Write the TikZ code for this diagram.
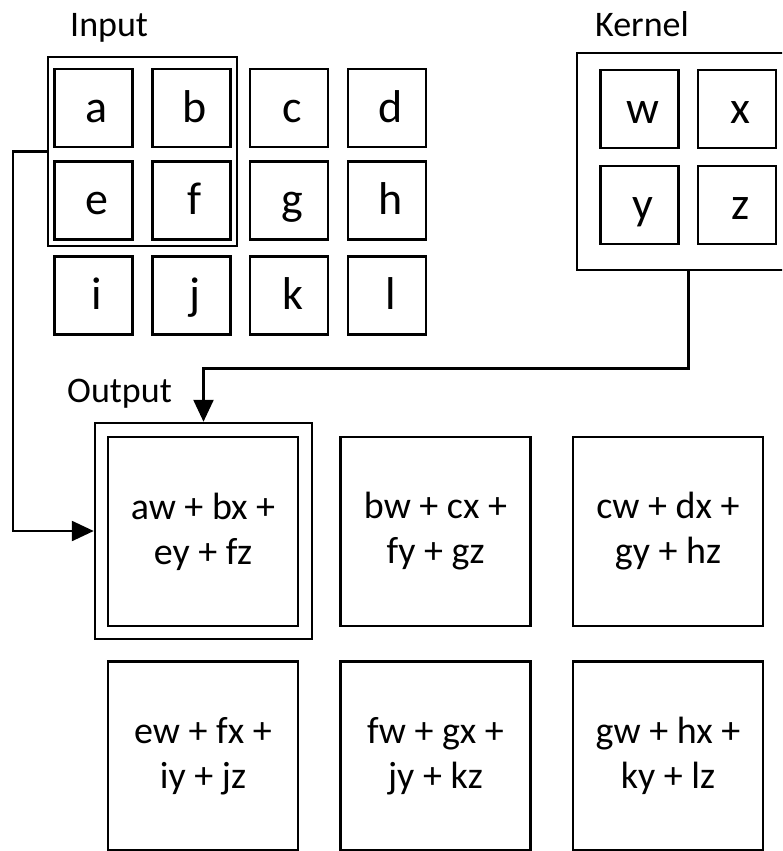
\documentclass[tikz,border=0pt]{standalone}
\usepackage{fontspec}
\setmainfont{Carlito}
\usetikzlibrary{arrows.meta}
\begin{document}
\begin{tikzpicture}[x=1pt,y=-1pt,
  cell/.style={draw,line width=2.5pt,minimum width=78pt,minimum height=78pt,inner sep=0pt,
    text height=30pt,text depth=2pt,
    font=\fontsize{46}{50}\selectfont,execute at begin node={\hspace*{7pt}}},
  ocell/.style={draw,line width=2.5pt,minimum width=190pt,minimum height=189pt,inner sep=0pt,
    align=center,font=\fontsize{38}{45}\selectfont},
  frame/.style={draw,line width=2.5pt,inner sep=0pt},
  lbl/.style={anchor=base west,inner sep=0pt,font=\fontsize{36}{40}\selectfont},
  conn/.style={line width=2.5pt,-{Triangle[width=20pt,length=22pt]}}]
\useasboundingbox (0,0) rectangle (782,851);
\clip (0,0) rectangle (782,851);

% labels
\node[lbl] (linput) at (70,37) {Input};
\node[lbl] (lkernel) at (595,37) {Kernel};
\node[lbl] (loutput) at (67,402) {Output};

% input grid
\node[cell] (a) at (93.5,108) {a};
\node[cell] (b) at (191.5,108) {b};
\node[cell] (c) at (289,108) {c};
\node[cell] (d) at (387,108) {d};
\node[cell] (e) at (93.5,200.5) {e};
\node[cell] (f) at (191.5,200.5) {f};
\node[cell] (g) at (289,200.5) {g};
\node[cell] (h) at (387,200.5) {h};
\node[cell] (i) at (93.5,295.5) {i};
\node[cell] (j) at (191.5,295.5) {j};
\node[cell] (k) at (289,295.5) {k};
\node[cell] (l) at (387,295.5) {l};
\node[frame,minimum width=189pt,minimum height=189pt] (inwin) at (142.5,151.5) {};

% kernel
\node[frame,minimum width=223pt,minimum height=217pt] (kframe) at (688.5,161.5) {};
\node[cell] (w) at (639.5,109) {w};
\node[cell] (x) at (737,109) {x};
\node[cell] (y) at (639.5,205) {y};
\node[cell] (z) at (737,205) {z};

% output
\node[frame,minimum width=217pt,minimum height=216pt] (oframe) at (203.5,531) {};
\node[ocell] (o1) at (203,531.5) {aw + bx +\\ey + fz};
\node[ocell] (o2) at (435.5,531.5) {bw + cx +\\fy + gz};
\node[ocell] (o3) at (668,531.5) {cw + dx +\\gy + hz};
\node[ocell] (o4) at (203,756) {ew + fx +\\iy + jz};
\node[ocell] (o5) at (435.5,756) {fw + gx +\\jy + kz};
\node[ocell] (o6) at (668,756) {gw + hx +\\ky + lz};

% connectors
\draw[conn] (inwin.west) -- ++(-34,0) |- (oframe.west);
\draw[conn] (kframe.south) -- ++(0,97) -| (oframe.north);
\end{tikzpicture}
\end{document}
